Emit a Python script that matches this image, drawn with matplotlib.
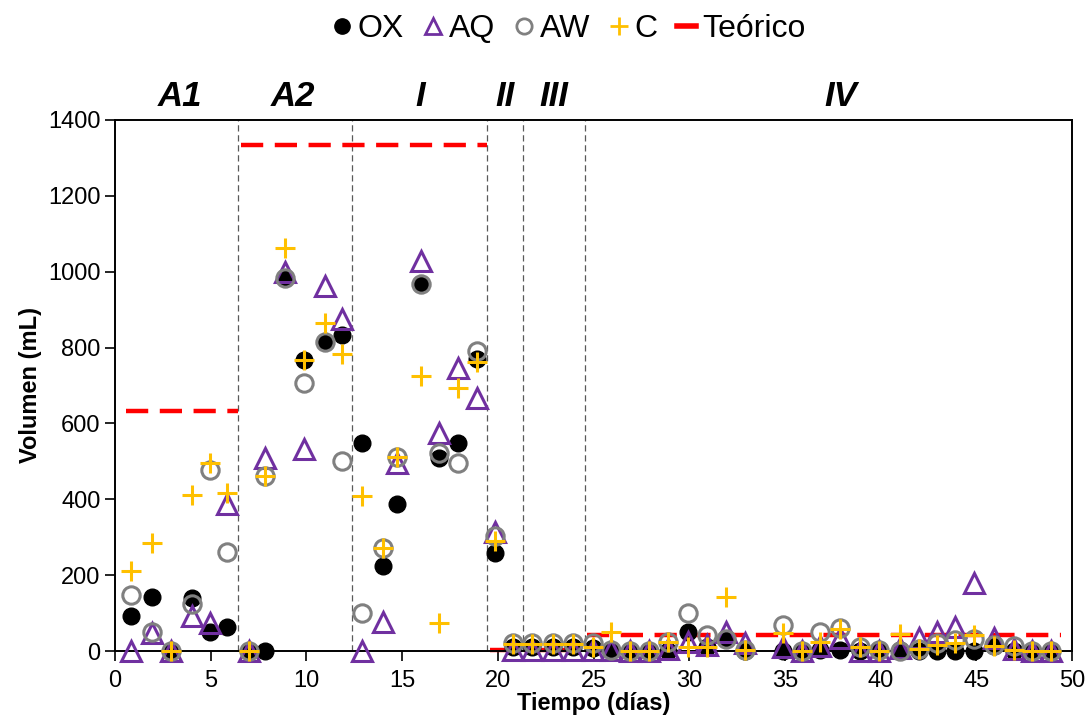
import matplotlib
matplotlib.use("Agg")
import matplotlib.pyplot as plt
from matplotlib.lines import Line2D

plt.rcParams['font.family'] = ['Liberation Sans', 'DejaVu Sans']

# Sampling days
dias = [0.85, 1.95, 2.95, 4.0, 4.95, 5.85, 7.0, 7.83, 8.9, 9.85, 10.95, 11.85,
        12.9, 14.0, 14.75, 16.0, 16.95, 17.9, 18.9, 19.85,
        20.8, 21.8, 22.9, 23.95, 24.95,
        25.9, 26.9, 27.9, 28.9, 29.95, 30.95, 31.9, 32.9, 34.9, 35.9, 36.85,
        37.9, 38.9, 39.9, 41.0, 42.0, 42.95, 43.9, 44.9, 45.9, 46.95, 47.9, 48.9]

ox = [93, 143, 0, 139, 50, 63, 0, 0, 984, 766, 815, 832,
      549, 223, 388, 967, 509, 549, 769, 258,
      10, 10, 10, 10, 8,
      3, 0, 0, 0, 51, 10, 33, 0, 0, 0, 3,
      3, 0, 0, 3, 0, 0, 0, 0, 13, 0, 0, 0]

aq = [0, 47, 0, 93, 75, 388, 0, 509, 998, 533, 962, 874,
      0, 77, 496, 1028, 575, 747, 667, 315,
      2, 2, 2, 2, 2,
      3, 0, 0, 5, 25, 15, 51, 21, 11, 0, 12,
      34, 0, 0, 8, 34, 51, 64, 179, 34, 5, 0, 0]

aw = [148, 49, 0, 124, 476, 260, 0, 462, 984, 707, 815, 500,
      101, 271, 512, 967, 522, 496, 790, 302,
      22, 22, 22, 22, 21,
      3, 0, 0, 25, 100, 42, 33, 3, 69, 0, 51,
      60, 10, 3, 0, 5, 21, 29, 33, 17, 13, 0, 0]

c = [212, 284, 0, 410, 496, 416, 0, 462, 1062, 766, 866, 782,
     409, 271, 512, 724, 73, 694, 762, 291,
     18, 18, 18, 18, 11,
     51, 0, 0, 23, 10, 10, 143, 3, 47, 0, 25,
     58, 10, 0, 45, 5, 16, 21, 42, 13, 3, 0, 0]

# Theoretical volume per stage: (start day, end day, volume)
teorico_inicio = [0.6, 6.6, 19.6, 24.65]
teorico_fin = [6.45, 19.45, 24.5, 49.4]
teorico_valor = [632, 1333, 3, 42]

# Stage boundaries and labels
limites = [6.45, 12.4, 19.45, 21.3, 24.55]
etapas = ['A1', 'A2', 'I', 'II', 'III', 'IV']
etapas_x = [3.4, 9.3, 15.95, 20.4, 22.95, 37.9]

fig = plt.figure(figsize=(10.9, 7.27), dpi=100)
ax = fig.add_axes([0.1055, 0.1045, 0.878, 0.7305])

for xb in limites:
    ax.axvline(xb, color='#595959', lw=0.9, ls=(0, (5, 3)), zorder=1)

for x0, x1, v in zip(teorico_inicio, teorico_fin, teorico_valor):
    ax.plot([x0, x1], [v, v], color='#FF0000', lw=3.2, ls=(0, (5, 2.6)),
            solid_capstyle='butt', dash_capstyle='butt', zorder=2, clip_on=False)

ax.plot(dias, ox, ls='none', marker='o', ms=12, mfc='black', mec='black',
        zorder=3, clip_on=False)
ax.plot(dias, aq, ls='none', marker='^', ms=14, mfc='none', mec='#7030A0',
        mew=2.2, zorder=4, clip_on=False)
ax.plot(dias, aw, ls='none', marker='o', ms=12.5, mfc='none', mec='#808080',
        mew=2.2, zorder=5, clip_on=False)
ax.plot(dias, c, ls='none', marker='+', ms=14, mec='#FFC000',
        mew=2.2, zorder=6, clip_on=False)

ax.set_xlim(0, 50)
ax.set_ylim(0, 1400)
ax.set_xticks(range(0, 51, 5))
ax.set_yticks(range(0, 1401, 200))
ax.tick_params(axis='both', labelsize=17, width=1.2, length=7, direction='out')
ax.tick_params(axis='x', pad=7)
for s in ax.spines.values():
    s.set_color('black')
    s.set_linewidth(1.4)

ax.set_xlabel('Tiempo (días)', fontsize=17, fontweight='bold', labelpad=0)
ax.set_ylabel('Volumen (mL)', fontsize=17, fontweight='bold', labelpad=4)

for lab, xe in zip(etapas, etapas_x):
    ax.text(xe, 1.045, lab, transform=ax.get_xaxis_transform(), ha='center',
            va='center', fontsize=25, fontweight='bold', fontstyle='italic')

handles = [
    Line2D([], [], ls='none', marker='o', ms=11, mfc='black', mec='black'),
    Line2D([], [], ls='none', marker='^', ms=12, mfc='none', mec='#7030A0', mew=2),
    Line2D([], [], ls='none', marker='o', ms=11, mfc='none', mec='#808080', mew=2),
    Line2D([], [], ls='none', marker='+', ms=13, mec='#FFC000', mew=2),
    Line2D([], [], color='#FF0000', lw=4),
]
fig.legend(handles, ['OX', 'AQ', 'AW', 'C', 'Teórico'], loc='upper center',
           bbox_to_anchor=(0.522, 1.02), ncol=5, frameon=False, fontsize=23,
           handlelength=0.6, handletextpad=0.2, columnspacing=0.6)

fig.savefig('out.png', dpi=100)
